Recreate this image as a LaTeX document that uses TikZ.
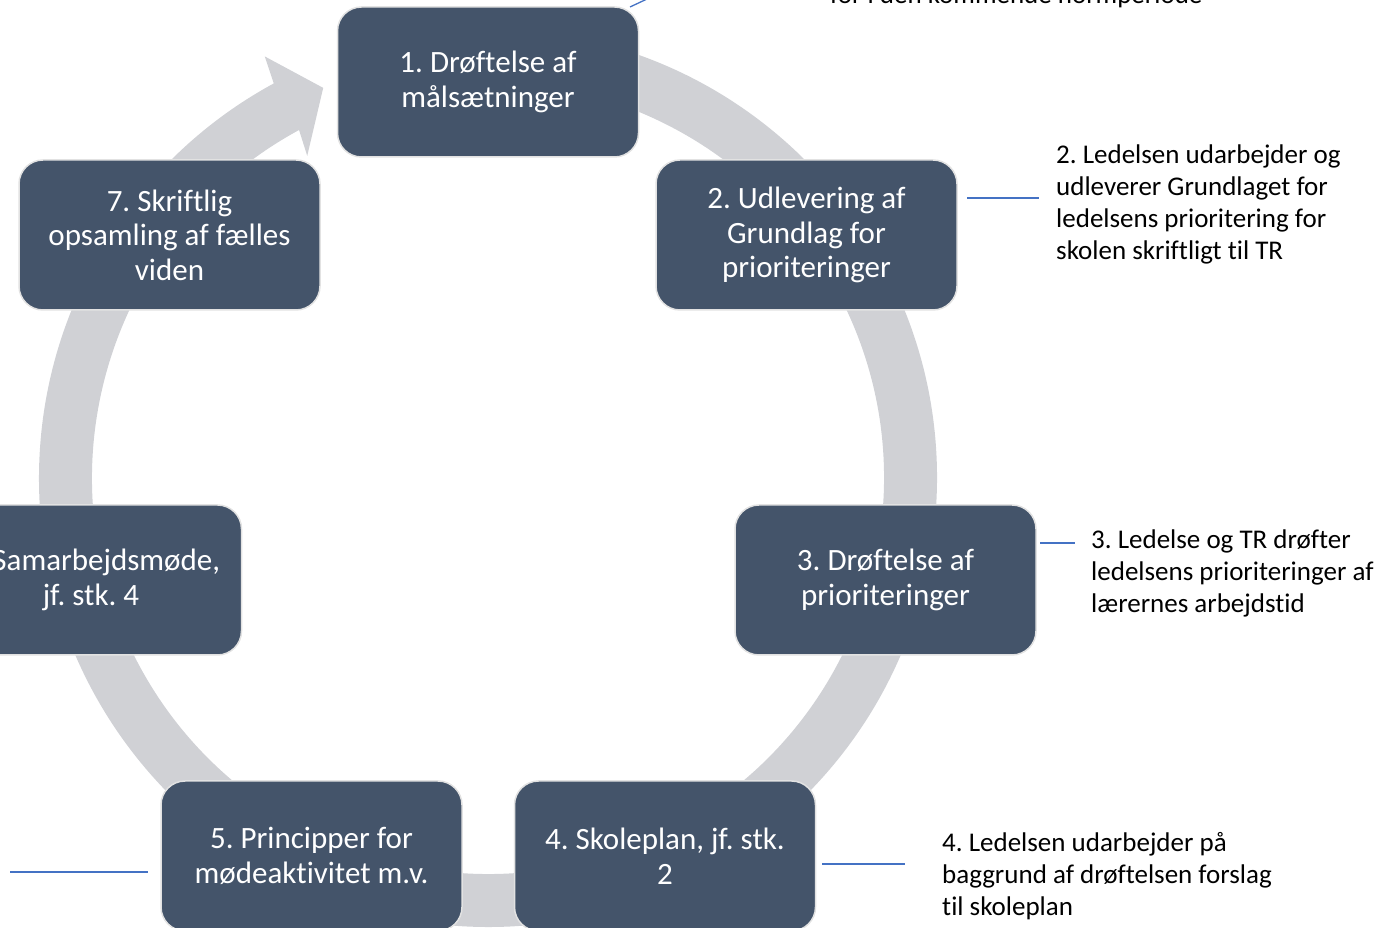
\documentclass[tikz,border=0pt]{standalone}
\usepackage{fontspec}
\setmainfont{Carlito}[Ligatures={NoCommon,NoRare}]
\frenchspacing
\definecolor{boxfill}{RGB}{68,84,106}
\definecolor{ringgray}{RGB}{208,209,213}
\definecolor{linkblue}{RGB}{68,114,196}
\definecolor{boxedge}{RGB}{226,226,226}
\begin{document}
\begin{tikzpicture}[x=1pt,y=1pt,
  stepbox/.style={draw=boxedge, line width=1.5pt, fill=boxfill, rounded corners=24pt,
    minimum width=301pt, minimum height=150pt, inner sep=0pt, text=white, align=center,
    font=\fontsize{31}{34.5}\selectfont},
  note/.style={anchor=north west, align=left, inner sep=0pt, text=black,
    font=\fontsize{27}{32}\selectfont},
  link/.style={draw=linkblue, line width=1.3pt}]
\useasboundingbox (0,0) rectangle (1399,928);
\clip (0,0) rectangle (1399,928);
% ring arrow
\fill[ringgray, shift={(488,450)}]
  (85:449) arc[start angle=85, end angle=-241.5, radius=449]
  -- (-242.1:477) -- (-247.1:423.5) -- (-240.7:369.4)
  -- (-241.5:396) arc[start angle=-241.5, end angle=85, radius=396] -- cycle;
% boxes
\node[stepbox] (b1) at (488,846) {1. Drøftelse af\\målsætninger};
\node[stepbox] (b2) at (806.5,693) {2. Udlevering af\\Grundlag for\\prioriteringer};
\node[stepbox] (b3) at (885.5,348) {3. Drøftelse af\\prioriteringer};
\node[stepbox] (b4) at (665,72) {4. Skoleplan, jf. stk.\\2};
\node[stepbox] (b5) at (311.5,72) {5. Principper for\\mødeaktivitet m.v.};
\node[stepbox] (b6) at (91,348) {6. Samarbejdsmøde,\\jf. stk. 4};
\node[stepbox] (b7) at (169.5,693) {7. Skriftlig\\opsamling af fælles\\viden};
% notes
\node[note, anchor=base west] (n1) at (830,924) {for i den kommende normperiode};
\node[note] (n2) at (1056,783) {2. Ledelsen udarbejder og\\udleverer Grundlaget for\\ledelsens prioritering for\\skolen skriftligt til TR};
\node[note] (n3) at (1091,398) {3. Ledelse og TR drøfter\\ledelsens prioriteringer af\\lærernes arbejdstid};
\node[note] (n4) at (942,96) {4. Ledelsen udarbejder på\\baggrund af drøftelsen forslag\\til skoleplan};
% connectors
\coordinate (c1a) at (630,921); \coordinate (c1b) at (662,936);
\coordinate (c2a) at (967,730); \coordinate (c2b) at (1039,730);
\coordinate (c3a) at (1040,385); \coordinate (c3b) at (1075,385);
\coordinate (c4a) at (822,64);  \coordinate (c4b) at (905,64);
\coordinate (c5a) at (10,56);   \coordinate (c5b) at (148,56);
\draw[link] (c1a) -- (c1b);
\draw[link] (c2a) -- (c2b);
\draw[link] (c3a) -- (c3b);
\draw[link] (c4a) -- (c4b);
\draw[link] (c5a) -- (c5b);
\end{tikzpicture}
\end{document}
